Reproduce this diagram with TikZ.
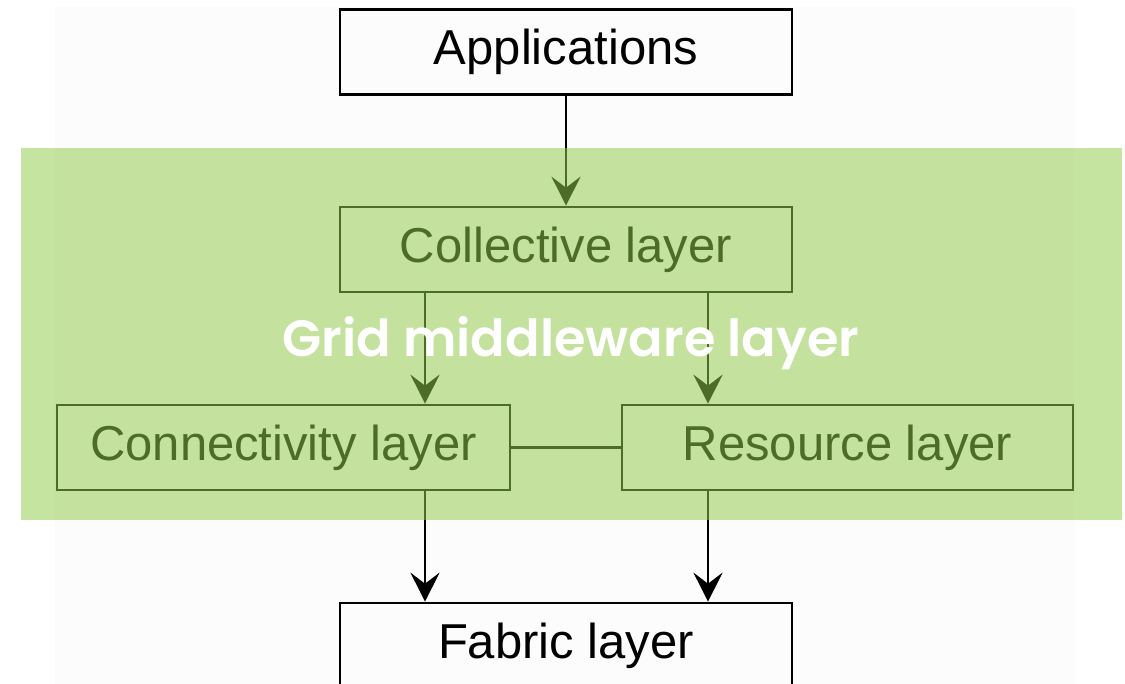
\documentclass[tikz,border=0pt]{standalone}
\usepackage{fontspec}
\setmainfont{Liberation Sans}
\newfontfamily\titlefont{Poppins}[BoldFont={Poppins SemiBold}]
\usetikzlibrary{arrows.meta}

\definecolor{paper}{RGB}{252,252,252}
\definecolor{bandgreen}{RGB}{147,204,76}

\tikzset{
  layerbox/.style={draw=black, line width=2.6pt, inner sep=0pt,
    minimum width=452pt, minimum height=85pt,
    font=\fontsize{49}{55}\selectfont},
  flow/.style={draw=black, line width=2.5pt,
    -{Stealth[length=29pt, width=29pt, inset=11pt]}},
  link/.style={draw=black, line width=2.4pt},
}

\begin{document}
\begin{tikzpicture}[x=1pt, y=-1pt]
  % page and the faint paper sheet
  \fill[white] (0,0) rectangle (1125,684);
  \useasboundingbox (0,0) rectangle (1125,684);
  \clip (0,0) rectangle (1125,684);
  \fill[paper] (55,7) rectangle (1075,700);

  % layers
  \node[layerbox] (apps) at (566,52) {Applications};
  \node[layerbox] (coll) at (566,249.5) {Collective layer};
  \node[layerbox, minimum width=453pt] (conn) at (283.5,447.5) {Connectivity layer};
  \node[layerbox, minimum width=451pt] (res) at (847.5,447.5) {Resource layer};
  \node[layerbox] (fab) at (566,645.5) {Fabric layer};

  % columns of the vertical connectors
  \coordinate (colL) at (425,0);
  \coordinate (colR) at (708,0);

  % connectors
  \draw[flow] (apps.south) -- (coll.north);
  \draw[flow] (coll.south -| colL) -- (conn.north -| colL);
  \draw[flow] (coll.south -| colR) -- (res.north -| colR);
  \draw[link] (conn.east) -- (res.west);
  \draw[flow] (conn.south -| colL) -- (fab.north -| colL);
  \draw[flow] (res.south -| colR) -- (fab.north -| colR);

  % translucent band over the middleware layers
  \fill[bandgreen, fill opacity=0.53] (21,148) rectangle (1122,520);
  \node[text=white, font=\titlefont\bfseries\fontsize{51}{56}\selectfont,
        inner sep=0pt] (title) at (571,343) {Grid middleware layer};
\end{tikzpicture}
\end{document}
